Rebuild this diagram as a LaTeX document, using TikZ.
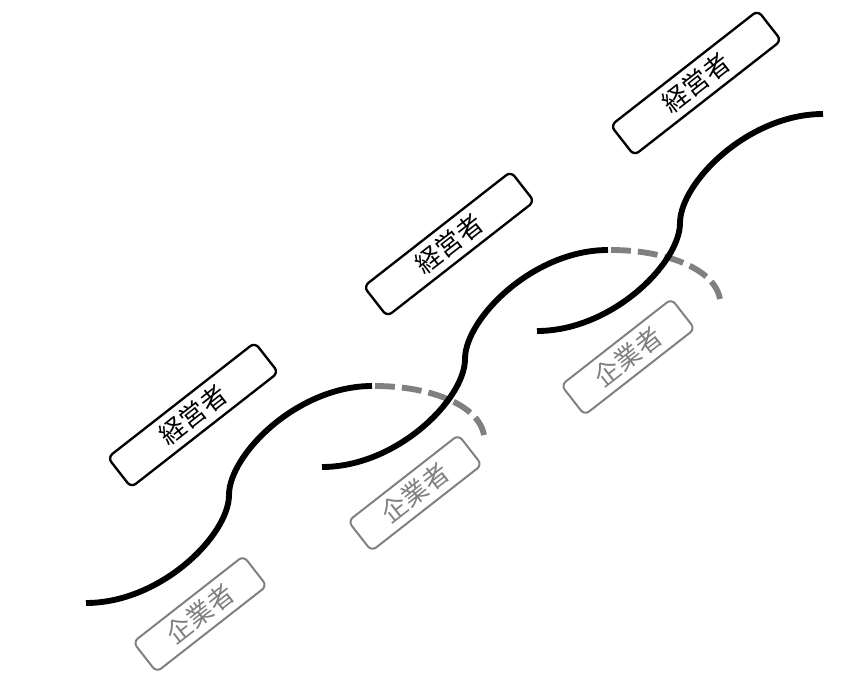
\documentclass[tikz,border=0pt]{standalone}
\usepackage{fontspec}
\newfontfamily\jpfont{Noto Sans CJK JP}
\definecolor{softgray}{RGB}{128,128,128}

\begin{document}
\begin{tikzpicture}[
        x=0.03cm,
        y=-0.03cm,
        label box/.style={rounded corners=5pt, rotate=38, inner sep=0pt,
            minimum height=1.14cm, font=\jpfont\fontsize{22}{26}\selectfont},
        manager/.style={label box, draw=black, line width=2pt, minimum width=5.6cm},
        founder/.style={label box, draw=softgray, text=softgray, line width=1.7pt, minimum width=4.2cm},
        growth/.style={line width=5pt, black},
        extension/.style={line width=5pt, softgray, dash pattern=on 17pt off 6pt}
    ]
    \useasboundingbox (0,0) rectangle (859,693);

    \node[manager] (mgr1) at (193,415) {経営者};
    \node[manager] (mgr2) at (449,244) {経営者};
    \node[manager] (mgr3) at (696,83) {経営者};

    \node[founder] (fnd1) at (200,614) {企業者};
    \node[founder] (fnd2) at (415,493) {企業者};
    \node[founder] (fnd3) at (628,357) {企業者};

    % dashed tails first, the next curve runs over them
    \foreach \sx/\sy in {86/603, 322/467}
        \draw[extension, shift={(\sx,\sy)}] (289,-217) .. controls (340,-217) and (392,-200) .. (398,-168);

    \foreach \sx/\sy [count=\i] in {86/603, 322/467, 537/331}
        \draw[growth, shift={(\sx,\sy)}] (0,0) coordinate (start\i)
            .. controls (75,0) and (143,-68) .. (143,-108)
            .. controls (143,-148) and (211,-217) .. (286,-217) coordinate (end\i);
\end{tikzpicture}
\end{document}
